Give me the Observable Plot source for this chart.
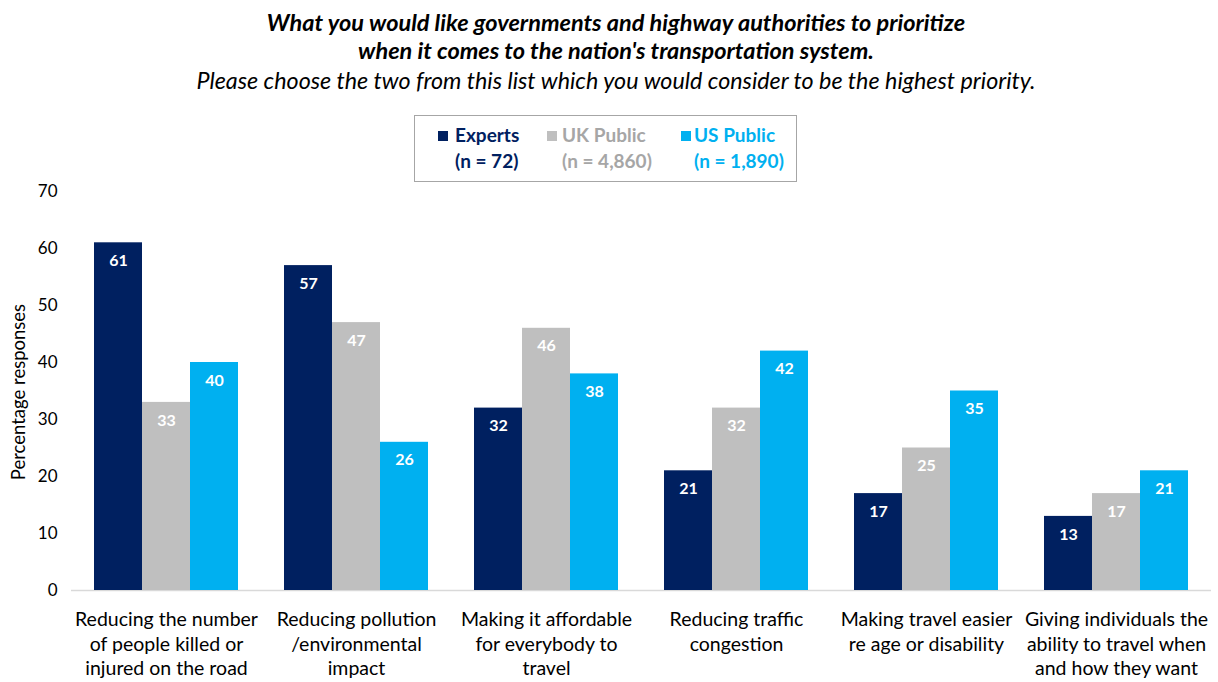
<!DOCTYPE html>
<html>
<head>
<meta charset="utf-8">
<script src="https://cdn.jsdelivr.net/npm/d3@7"></script>
<script src="https://cdn.jsdelivr.net/npm/@observablehq/plot@0.6"></script>
<style>
  body { margin:0; background:#fff; font-family: Lato, "Open Sans", sans-serif; }
  #wrap { position:relative; width:1218px; height:682px; overflow:hidden; background:#fff; }
  .title { position:absolute; left:0; width:1232px; text-align:center; font-style:italic; color:#000; white-space:nowrap; line-height:28px; z-index:2; }
  .t1 { font-weight:bold; font-size:23.5px; }
  .t3 { font-size:23.3px; }
  #legend { position:absolute; left:414px; top:115px; width:381px; height:65px; border:1.5px solid #a6a6a6; box-sizing:content-box; z-index:2; }
  .li { position:absolute; font-weight:bold; font-size:19px; white-space:nowrap; line-height:26px; }
  .sq { position:absolute; width:10px; height:10px; }
  #chart { position:absolute; left:0; top:175px; z-index:1; }
  #ylabel { position:absolute; left:18px; top:392px; transform: translate(-50%, -50%) rotate(-90deg); font-size:18.5px; white-space:nowrap; color:#000; z-index:2; }
</style>
</head>
<body>
<div id="wrap">
  <div class="title t1" style="top:8px">What you would like governments and highway authorities to prioritize</div>
  <div class="title t1" style="top:36px">when it comes to the nation's transportation system.</div>
  <div class="title t3" style="top:66px">Please choose the two from this list which you would consider to be the highest priority.</div>
  <div id="legend"></div>
  <div id="chart"></div>
  <div id="ylabel">Percentage responses</div>
</div>
<script>
const categories = [
  "Reducing the number\nof people killed or\ninjured on the road",
  "Reducing pollution\n/environmental\nimpact",
  "Making it affordable\nfor everybody to\ntravel",
  "Reducing traffic\ncongestion",
  "Making travel easier\nre age or disability",
  "Giving individuals the\nability to travel when\nand how they want"
];
const series = ["Experts", "UK Public", "US Public"];
const sampleSizes = ["(n = 72)", "(n = 4,860)", "(n = 1,890)"];
const experts = [61, 57, 32, 21, 17, 13];
const ukPublic = [33, 47, 46, 32, 25, 17];
const usPublic = [40, 26, 38, 42, 35, 21];
const colors = ["#002060", "#BFBFBF", "#00B0F0"];
const yTicks = [0, 10, 20, 30, 40, 50, 60, 70];

const seriesValues = [experts, ukPublic, usPublic];
const data = categories.flatMap((c, i) => series.map((s, j) => ({cat: c, series: s, value: seriesValues[j][i]})));

// legend
const legend = document.getElementById("legend");
const sqX = [23, 132, 266];
const textX = [40, 147, 279];
const legendTextColors = ["#002060", "#A6A6A6", "#00B0F0"];
series.forEach((s, j) => {
  const q = document.createElement("div");
  q.className = "sq";
  q.style.left = sqX[j] + "px";
  q.style.top = "15px";
  q.style.background = colors[j];
  legend.appendChild(q);
  const a = document.createElement("div");
  a.className = "li";
  a.style.left = textX[j] + "px";
  a.style.top = "6px";
  a.style.color = legendTextColors[j];
  a.textContent = s;
  legend.appendChild(a);
  const b = document.createElement("div");
  b.className = "li";
  b.style.left = textX[j] + "px";
  b.style.top = "32px";
  b.style.color = legendTextColors[j];
  b.textContent = sampleSizes[j];
  legend.appendChild(b);
});

const chart = Plot.plot({
  width: 1218,
  height: 507,
  marginTop: 16,
  marginBottom: 92,
  marginLeft: 69,
  marginRight: 6,
  style: {fontFamily: "Lato, 'Open Sans', sans-serif", fontSize: "15px", color: "#000", background: "transparent"},
  fx: {domain: categories, padding: 0, label: null},
  x: {domain: series, paddingInner: 0, paddingOuter: 0.47, axis: null},
  y: {domain: [0, 70]},
  color: {domain: series, range: colors},
  marks: [
    Plot.axisY({ticks: yTicks, tickSize: 0, tickPadding: 14, fontSize: 17, label: null}),
    Plot.axisFx({anchor: "bottom", tickSize: 0, tickPadding: 18, fontSize: 19.5, lineHeight: 1.26, label: null}),
    Plot.ruleY([0], {stroke: "#d9d9d9", strokeWidth: 1.5}),
    Plot.barY(data, {fx: "cat", x: "series", y: "value", fill: "series"}),
    Plot.text(data, {fx: "cat", x: "series", y: "value", text: d => String(d.value), dy: 18, fill: "white", fontWeight: "bold", fontSize: 16})
  ]
});
document.getElementById("chart").appendChild(chart);
</script>
</body>
</html>
